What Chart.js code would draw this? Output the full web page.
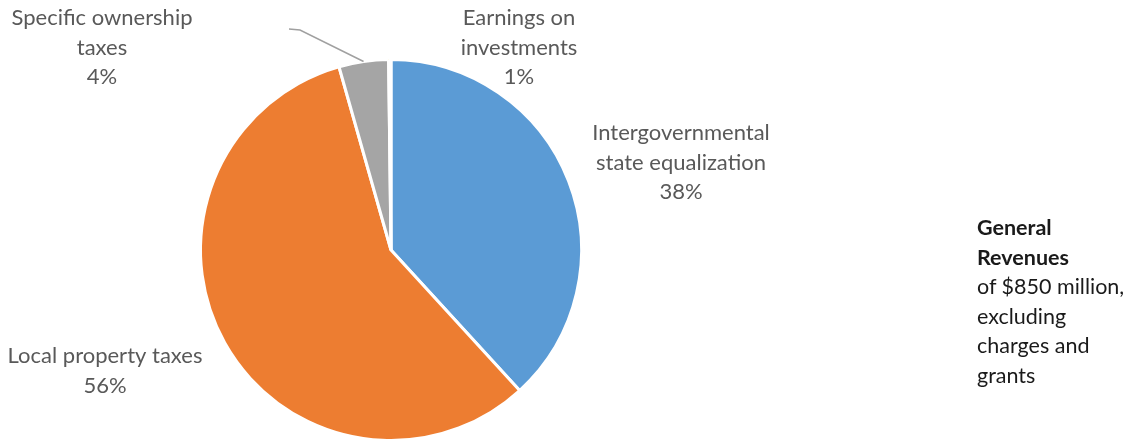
<!DOCTYPE html>
<html>
<head>
<meta charset="utf-8">
<script src="https://cdn.jsdelivr.net/npm/chart.js@4.4.1/dist/chart.umd.min.js"></script>
<style>
  html, body { margin: 0; padding: 0; background: #fff; }
  #wrap { position: relative; width: 1143px; height: 444px; }
  #side {
    position: absolute; left: 977px; top: 213px;
    font-family: Lato, "Open Sans", sans-serif; font-size: 21.5px; line-height: 29.5px;
    color: #1a1a1a;
  }
  #side b { font-weight: bold; }
</style>
</head>
<body>
<div id="wrap">
  <canvas id="pie" width="1143" height="444"></canvas>
  <div id="side"><b>General<br>Revenues</b><br>of $850 million,<br>excluding<br>charges and<br>grants</div>
</div>
<script>
// Datos del gráfico (porcentajes)
const categories = ["Intergovernmental state equalization", "Local property taxes", "Specific ownership taxes", "Earnings on investments"];
const values = [38.2, 57.4, 4.2, 0.2];
const pctLabels = ["38%", "56%", "4%", "1%"];
const colors = ["#5B9BD5", "#ED7D31", "#A5A5A5", "#FFC000"];

// Líneas de texto de cada etiqueta y dónde va (centro x, y de la primera línea)
const labelLines = [
  ["Intergovernmental", "state equalization"],
  ["Local property taxes"],
  ["Specific ownership", "taxes"],
  ["Earnings on", "investments"],
];
const labelPos = [
  { x: 681, y: 133 },
  { x: 105, y: 356 },
  { x: 102, y: 18 },
  { x: 519, y: 18 },
];
const lineH = 29.5;

// Plugin para pintar las etiquetas y la línea guía del slice gris
const pieLabels = {
  id: "pieLabels",
  afterDraw(chart) {
    const ctx = chart.ctx;
    const arcs = chart.getDatasetMeta(0).data;
    ctx.save();

    // línea guía hacia el slice de "Specific ownership taxes"
    const a = arcs[2];
    const mid = (a.startAngle + a.endAngle) / 2;
    const ex = a.x + Math.cos(mid) * a.outerRadius;
    const ey = a.y + Math.sin(mid) * a.outerRadius;
    ctx.strokeStyle = "#A0A0A0";
    ctx.lineWidth = 1.5;
    ctx.beginPath();
    ctx.moveTo(289, 29);
    ctx.lineTo(300, 30);
    ctx.lineTo(ex, ey);
    ctx.stroke();

    ctx.fillStyle = "#595959";
    ctx.font = "22px Lato, 'Open Sans', sans-serif";
    ctx.textAlign = "center";
    ctx.textBaseline = "middle";
    labelLines.forEach((lines, i) => {
      const p = labelPos[i];
      const all = lines.concat(pctLabels[i]);
      all.forEach((t, k) => ctx.fillText(t, p.x, p.y + k * lineH));
    });
    ctx.restore();
  },
};

new Chart(document.getElementById("pie"), {
  type: "pie",
  data: {
    labels: categories,
    datasets: [{
      data: values,
      backgroundColor: colors,
      borderColor: "#fff",
      borderWidth: 3,
    }],
  },
  options: {
    responsive: false,
    animation: false,
    layout: { padding: { left: 199, right: 560, top: 58, bottom: 2 } },
    plugins: {
      legend: { display: false },
      tooltip: { enabled: false },
    },
  },
  plugins: [pieLabels],
});
</script>
</body>
</html>
